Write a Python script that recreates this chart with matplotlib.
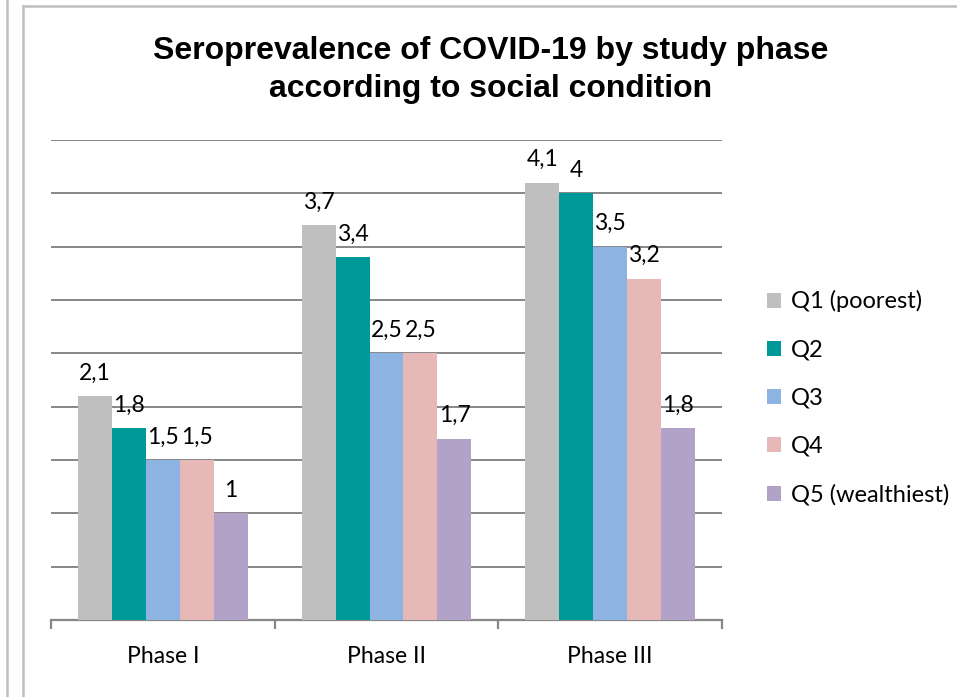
import numpy as np
import matplotlib
matplotlib.use("Agg")
import matplotlib.pyplot as plt
from matplotlib.lines import Line2D
from matplotlib.patches import Patch

# seroprevalence (%) per phase and wealth quintile
phases = ["Phase I", "Phase II", "Phase III"]
quintiles = ["Q1 (poorest)", "Q2", "Q3", "Q4", "Q5 (wealthiest)"]
q1 = [2.1, 3.7, 4.1]
q2 = [1.8, 3.4, 4.0]
q3 = [1.5, 2.5, 3.5]
q4 = [1.5, 2.5, 3.2]
q5 = [1.0, 1.7, 1.8]
series = [q1, q2, q3, q4, q5]
colors = ["#BFBFBF", "#009999", "#8DB3E2", "#E6B9B8", "#B2A2C7"]

W, H = 957, 697
fig = plt.figure(figsize=(W / 100, H / 100), dpi=100)
ax = fig.add_axes([51 / W, 1 - 620 / H, (722 - 51) / W, (620 - 140) / H])

lab_font = "Lato"
x = np.arange(len(phases))
bw = 0.152
for i, (vals, col) in enumerate(zip(series, colors)):
    pos = x + (i - 2) * bw
    bars = ax.bar(pos, vals, width=bw, color=col, zorder=3, linewidth=0)
    labels = [("%g" % v).replace(".", ",") for v in vals]
    ax.bar_label(bars, labels=labels, padding=9, fontsize=16.5,
                 family=lab_font, color="#000000", zorder=4)

ax.set_xlim(-0.5, 2.5)
ax.set_ylim(0, 4.5)
ax.set_yticks(np.arange(0.5, 4.51, 0.5))
ax.yaxis.grid(True, color="#878787", linewidth=1.4, zorder=0)
ax.tick_params(axis="y", length=0, labelleft=False)

ax.set_xticks(x)
ax.set_xticklabels(phases, fontsize=16.5, family=lab_font)
ax.set_xticks([-0.5, 0.5, 1.5, 2.5], minor=True)
ax.tick_params(axis="x", which="major", length=0, pad=19)
ax.tick_params(axis="x", which="minor", length=6.5, width=1.6, color="#878787")

for s in ["top", "right", "left"]:
    ax.spines[s].set_visible(False)
ax.spines["bottom"].set_color("#878787")
ax.spines["bottom"].set_linewidth(1.6)

fig.text(491 / W, 1 - 70 / H,
         "Seroprevalence of COVID-19 by study phase\naccording to social condition",
         ha="center", va="center", fontsize=23, fontweight="bold",
         family="Liberation Sans", linespacing=1.38)

handles = [Patch(facecolor=c, edgecolor="none") for c in colors]
fig.legend(handles, quintiles, loc="center left",
           bbox_to_anchor=(767 / W, 1 - 398 / H), frameon=False,
           prop={"family": lab_font, "size": 17},
           handlelength=0.6, handleheight=0.6, handletextpad=0.4,
           labelspacing=1.15, borderpad=0, borderaxespad=0)

# outer frame lines
fig.add_artist(Line2D([7 / W, 7 / W], [0, 1], transform=fig.transFigure,
                      color="#BFBFBF", linewidth=1.8))
fig.add_artist(Line2D([23 / W, 23 / W], [0, 1 - 5.5 / H], transform=fig.transFigure,
                      color="#BFBFBF", linewidth=1.8))
fig.add_artist(Line2D([23 / W, 1], [1 - 5.5 / H, 1 - 5.5 / H], transform=fig.transFigure,
                      color="#BFBFBF", linewidth=1.8))

fig.savefig("out.png", dpi=100)
